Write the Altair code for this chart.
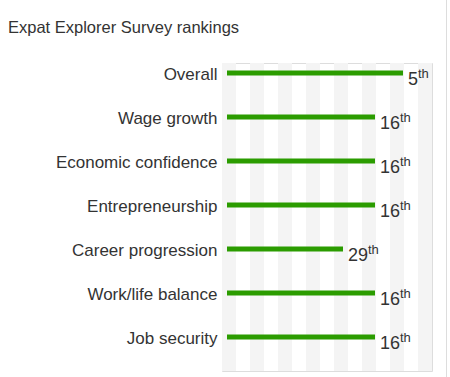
import altair as alt
import pandas as pd

categories = ["Overall", "Wage growth", "Economic confidence", "Entrepreneurship",
              "Career progression", "Work/life balance", "Job security"]
ranks = [5, 16, 16, 16, 29, 16, 16]
# bar length (score units)
scores = [176, 148, 148, 148, 116, 148, 148]

title_text = "Expat Explorer Survey rankings"

df = pd.DataFrame({"category": categories, "rank": ranks, "score": scores})

FONT = "Liberation Sans, Arial, Helvetica, sans-serif"
GREEN = "#2b9c00"
TEXT = "#333333"

W, H = 210, 308

xscale = alt.Scale(domain=[-5, 205], range=[0, W], nice=False, zero=False)
yscale = alt.Scale(type="point", domain=categories, range=[10, 274], padding=0)

stripes = alt.Chart(alt.sequence(-5, 205, 28, as_="s")).transform_calculate(
    s2="datum.s + 14"
).mark_rect(color="#f4f4f4").encode(
    x=alt.X("s:Q", scale=xscale, axis=None),
    x2="s2:Q",
    y=alt.value(0),
    y2=alt.value(H),
)

base = alt.Chart(df)

bars = base.transform_calculate(zero="0").mark_rule(
    color=GREEN, strokeWidth=5, strokeCap="butt"
).encode(
    x=alt.X("zero:Q", scale=xscale, axis=None),
    x2="score:Q",
    y=alt.Y("category:N", scale=yscale, sort=categories,
            axis=alt.Axis(title=None, domain=False, ticks=False, labelPadding=5,
                          labelFontSize=17, labelFont=FONT, labelColor=TEXT,
                          labelLimit=400, grid=False, labelOffset=1)),
)

nums = base.transform_calculate(lbl="toString(datum.rank)").mark_text(
    align="left", baseline="alphabetic", dx=5, dy=11.5,
    fontSize=18, font=FONT, color=TEXT
).encode(
    x=alt.X("score:Q", scale=xscale),
    y=alt.Y("category:N", scale=yscale, sort=categories),
    text="lbl:N",
)

sups = base.transform_calculate(
    thx="datum.score + length(toString(datum.rank)) * 10"
).mark_text(
    align="left", baseline="alphabetic", dx=5, dy=5,
    fontSize=13, font=FONT, color=TEXT
).encode(
    x=alt.X("thx:Q", scale=xscale),
    y=alt.Y("category:N", scale=yscale, sort=categories),
    text=alt.value("th"),
)

title = alt.Chart(pd.DataFrame({"t": [title_text]})).mark_text(
    align="left", baseline="alphabetic", fontSize=16.5, font=FONT, color=TEXT
).encode(
    x=alt.value(-214), y=alt.value(-30), text="t:N"
)

border = alt.Chart(pd.DataFrame({"t": [0]})).mark_rule(
    color="#dddddd", strokeWidth=1
).encode(
    x=alt.value(224.5), y=alt.value(-63), y2=alt.value(H + 6)
)

chart = alt.layer(stripes, bars, nums, sups, title, border).properties(
    width=W, height=H,
    autosize=alt.AutoSizeParams(type="none"),
    padding={"left": 222, "top": 63, "right": 18, "bottom": 6},
).configure_view(stroke=None).configure(background="white")

chart.save("out.html", embed_options={"renderer": "svg", "actions": False})
